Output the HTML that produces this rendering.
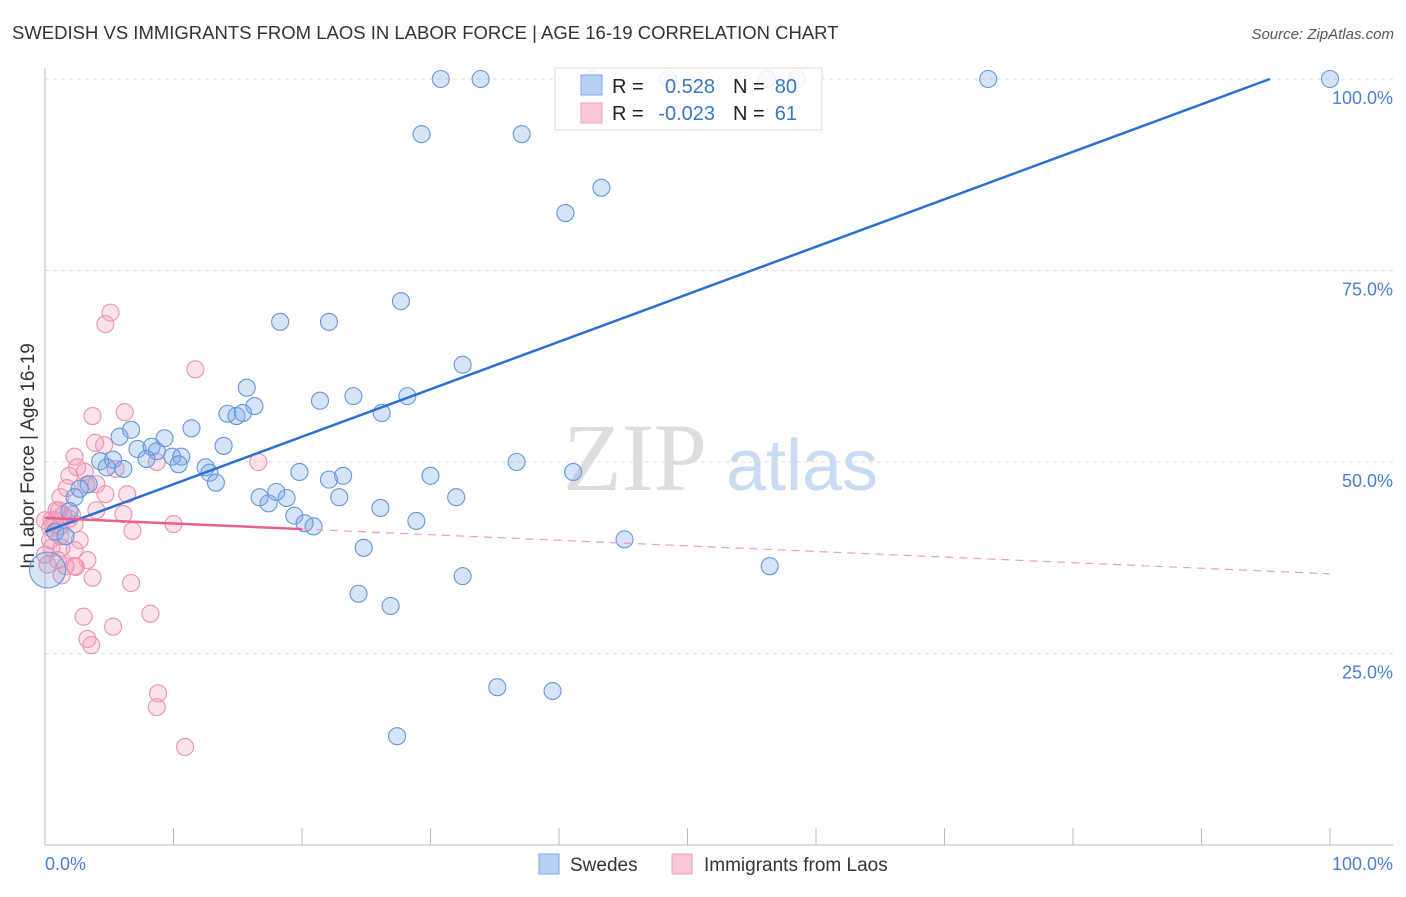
<!DOCTYPE html>
<html><head><meta charset="utf-8"><style>
body{margin:0;background:#fff;width:1406px;height:892px;overflow:hidden;font-family:"Liberation Sans",sans-serif}
svg text{font-family:"Liberation Sans",sans-serif}
</style></head><body>
<svg id="chart" width="1406" height="892">
<text x="12" y="39" font-size="18.5" fill="#333">SWEDISH VS IMMIGRANTS FROM LAOS IN LABOR FORCE | AGE 16-19 CORRELATION CHART</text>
<text x="1394" y="39" font-size="15" fill="#555" font-style="italic" text-anchor="end">Source: ZipAtlas.com</text>
<text transform="translate(34,456) rotate(-90)" font-size="19" fill="#333" text-anchor="middle">In Labor Force | Age 16-19</text>
<g>
<text x="635" y="490" font-size="96" fill="#ddd" font-family="Liberation Serif" text-anchor="middle" style="font-family:'Liberation Serif',serif">ZIP</text>
<text x="802" y="490" font-size="72" fill="#c8dbf2" text-anchor="middle">atlas</text>
</g>
<g id="grid"></g><g id="axes"></g><g id="marks"></g><g id="lines"></g>
<g>
<rect x="555" y="68" width="267" height="62" fill="rgba(255,255,255,0.85)" stroke="#ddd"/>
<rect x="581" y="75" width="21" height="20" fill="#b8d0f2" stroke="#7fa8e0"/>
<rect x="581" y="103" width="21" height="20" fill="#fbc9d8" stroke="#efa0b8"/>
<text x="612" y="93" font-size="20" fill="#222">R =</text><text x="715" y="93" font-size="20" fill="#3a75cc" text-anchor="end">0.528</text>
<text x="733" y="93" font-size="20" fill="#222">N =</text><text x="797" y="93" font-size="20" fill="#3a75cc" text-anchor="end">80</text>
<text x="612" y="120" font-size="20" fill="#222">R =</text><text x="715" y="120" font-size="20" fill="#3a75cc" text-anchor="end">-0.023</text>
<text x="733" y="120" font-size="20" fill="#222">N =</text><text x="797" y="120" font-size="20" fill="#3a75cc" text-anchor="end">61</text>
</g>
<g>
<rect x="539" y="854" width="20" height="20" fill="#b8d0f2" stroke="#7fa8e0"/>
<text x="570" y="871" font-size="19" fill="#333">Swedes</text>
<rect x="672" y="854" width="20" height="20" fill="#fbc9d8" stroke="#efa0b8"/>
<text x="704" y="871" font-size="19" fill="#333">Immigrants from Laos</text>
</g>
</svg>
<script>
const yTicks=[25,50,75,100];
const yTickLabels=["25.0%","50.0%","75.0%","100.0%"];
const swedesX=[30.8,33.9,42.6,48.5,56.2,58.5,73.4,100,29.3,37.1,43.3,40.5,27.7,18.3,22.1,32.5,15.7,24.0,28.2,21.4,16.3,14.2,14.9,15.4,26.2,5.8,6.7,11.4,9.3,7.2,8.3,8.7,13.9,10.6,7.9,9.9,4.3,5.3,10.4,36.7,12.5,6.1,4.8,19.8,12.8,41.1,23.2,22.1,30.0,13.3,3.4,2.7,18.0,16.7,18.8,32.0,22.9,17.4,26.1,2.3,19.4,28.9,20.2,20.9,1.9,0.8,1.6,45.1,24.8,56.4,32.5,24.4,26.9,35.2,39.5,27.4,0.2];
const swedesY=[100,100,100,100,100,100,100,100,92.8,92.8,85.8,82.5,71.0,68.3,68.3,62.7,59.7,58.6,58.6,58.0,57.3,56.3,56.0,56.4,56.4,53.3,54.2,54.4,53.1,51.7,52.0,51.4,52.1,50.7,50.4,50.7,50.1,50.3,49.7,50.0,49.3,49.1,49.3,48.7,48.6,48.7,48.2,47.7,48.2,47.3,47.1,46.5,46.1,45.4,45.3,45.4,45.4,44.6,44.0,45.4,43.0,42.3,42.0,41.6,43.6,40.9,40.3,39.9,38.8,36.4,35.1,32.8,31.2,20.6,20.1,14.2,35.9];
const laosX=[5.1,4.7,11.7,3.7,6.2,3.9,2.3,4.6,16.6,8.7,2.5,1.9,3.1,5.5,1.7,3.2,4.0,1.2,4.7,6.4,1.1,4.0,6.1,2.1,1.9,0.9,0.5,0.4,1.2,2.3,10.0,6.8,0.5,1.3,2.3,1.0,3.3,2.3,2.4,1.6,1.3,3.7,6.7,3.0,8.2,5.3,3.3,3.6,8.8,8.7,10.9,0,0.4,0.2,1.4,0.8,0,1.2,2.7];
const laosY=[69.5,68.0,62.1,56.0,56.5,52.5,50.7,52.2,50.0,50.0,49.3,48.2,48.7,49.1,46.6,47.0,47.1,45.4,45.8,45.8,43.7,43.7,43.2,43.1,42.6,43.7,42.4,41.4,41.6,41.9,41.9,41.0,38.8,38.8,38.5,37.2,37.2,36.4,36.3,36.4,35.2,34.9,34.2,29.8,30.2,28.5,26.9,26.1,19.8,18.0,12.8,37.9,39.8,36.6,43.1,42.4,42.4,40.3,39.8];
const swedesTrend=[40.9,0.62];
const laosTrend=[42.7,-0.073];
const NS="http://www.w3.org/2000/svg";
const X=v=>45+v*12.85, Y=v=>845-v*7.66;
function mk(tag,attrs,parent){const e=document.createElementNS(NS,tag);for(const k in attrs)e.setAttribute(k,attrs[k]);parent.appendChild(e);return e;}
const grid=document.getElementById('grid'),axes=document.getElementById('axes'),marks=document.getElementById('marks'),lines=document.getElementById('lines');
yTicks.forEach((t,i)=>{
 const l=mk('line',{x1:45,x2:1393,y1:Y(t),y2:Y(t),stroke:'#ddd','stroke-dasharray':'4 4'},grid);
 
 
 const tx=mk('text',{x:1393,y:Y(t)+25,'font-size':18,fill:'#4a7fd4','text-anchor':'end'},axes);
 tx.textContent=yTickLabels[i];
 
 
});
const ax=mk('line',{x1:45,x2:1393,y1:845,y2:845,stroke:'#bbb'},axes);


const ay=mk('line',{x1:45,x2:45,y1:68,y2:845,stroke:'#bbb'},axes);


for(let i=0;i<=10;i++){const t=mk('line',{x1:X(i*10),x2:X(i*10),y1:828,y2:845,stroke:'#bbb'},axes);
 
 }
[['0.0%',45,'start'],['100.0%',1393,'end']].forEach(a=>{const t=mk('text',{x:a[1],y:870,'font-size':18,fill:'#4a7fd4','text-anchor':a[2]},axes);t.textContent=a[0];
 
 });
laosX.forEach((v,i)=>{const c=mk('circle',{cx:X(v),cy:Y(laosY[i]),r:8.5,fill:'rgba(245,150,180,0.28)',stroke:'#eb93ae','stroke-width':1.1},marks);
 
 });
swedesX.forEach((v,i)=>{const c=mk('circle',{cx:X(v),cy:Y(swedesY[i]),r:i==swedesX.length-1?18:8.5,fill:'rgba(120,165,230,0.3)',stroke:'#6496dc','stroke-width':1.1},marks);
 
 });
const xEnd=(100-swedesTrend[0])/swedesTrend[1];
const bl=mk('line',{x1:X(0),y1:Y(swedesTrend[0]),x2:X(xEnd),y2:Y(100),stroke:'#2a6fd6','stroke-width':2.5},lines);


const pl=mk('line',{x1:X(0),y1:Y(laosTrend[0]),x2:X(20),y2:Y(laosTrend[0]+20*laosTrend[1]),stroke:'#e8608e','stroke-width':2.5},lines);


const pd=mk('line',{x1:X(20),y1:Y(laosTrend[0]+20*laosTrend[1]),x2:X(100),y2:Y(laosTrend[0]+100*laosTrend[1]),stroke:'#eaa0b8','stroke-width':1.2,'stroke-dasharray':'8 6'},lines);


</script>
</body></html>
